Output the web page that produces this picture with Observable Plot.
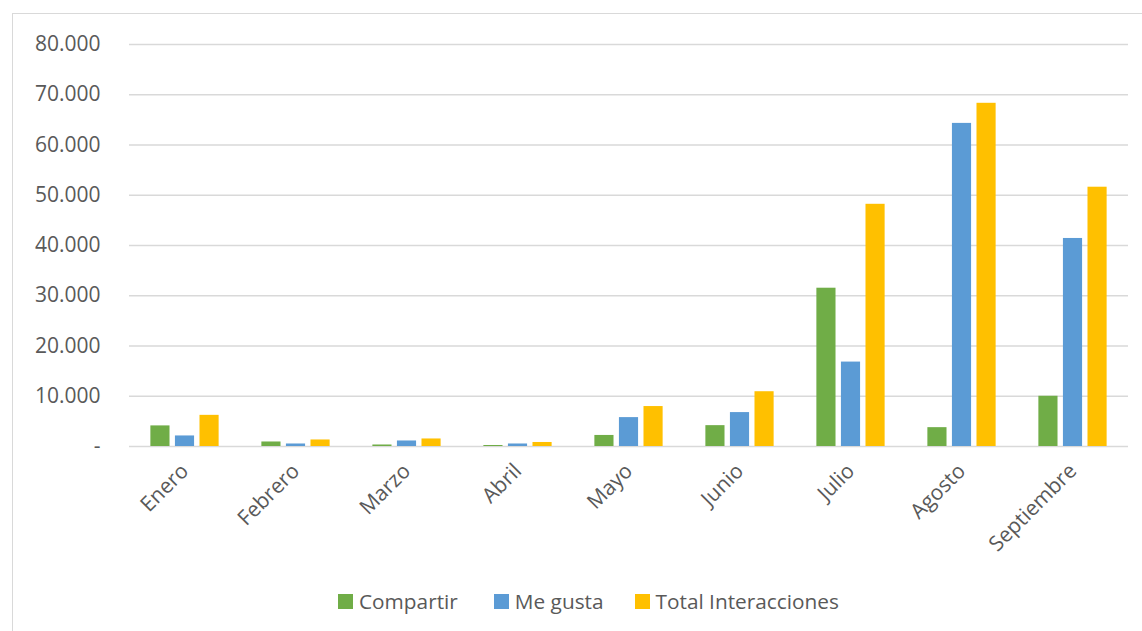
<!DOCTYPE html>
<html>
<head>
<meta charset="utf-8">
<script src="https://cdn.jsdelivr.net/npm/d3@7"></script>
<script src="https://cdn.jsdelivr.net/npm/@observablehq/plot@0.6"></script>
<style>
  html, body { margin: 0; padding: 0; background: #fff; }
  body { width: 1142px; height: 631px; overflow: hidden; position: relative; font-family: "Open Sans", sans-serif; }
  #frame { position: absolute; left: 12px; top: 13px; width: 1140px; height: 640px; border: 1.5px solid #d9d9d9; box-sizing: border-box; }
  #chart { position: absolute; left: 0; top: 0; }
  #legend { position: absolute; left: 338px; top: 587px; display: flex; font-size: 20.8px; line-height: 28px; color: #595959; white-space: nowrap; }
  .item { display: flex; align-items: center; }
  .sw { width: 15px; height: 15px; margin-right: 6px; }
</style>
</head>
<body>
<div id="frame"></div>
<div id="chart"></div>
<div id="legend"></div>
<script>
const months = ["Enero","Febrero","Marzo","Abril","Mayo","Junio","Julio","Agosto","Septiembre"];
const seriesNames = ["Compartir","Me gusta","Total Interacciones"];
const seriesColors = ["#70ad47","#5b9bd5","#ffc000"];
const compartir = [4100, 900, 300, 200, 2200, 4150, 31500, 3750, 10000];
const meGusta   = [2100, 500, 1100, 500, 5750, 6750, 16800, 64300, 41400];
const total     = [6200, 1300, 1500, 800, 7950, 10900, 48200, 68300, 51600];
const yTicks = [0,10000,20000,30000,40000,50000,60000,70000,80000];

const seriesValues = [compartir, meGusta, total];
const data = [];
months.forEach((m, i) => {
  seriesNames.forEach((s, j) => data.push({month: m, series: s, value: seriesValues[j][i]}));
});

const fmt = v => v === 0 ? "-" : d3.format(",")(v).replace(/,/g, ".");

const plot = Plot.plot({
  width: 1142,
  height: 580,
  marginLeft: 129,
  marginRight: 14,
  marginTop: 44,
  marginBottom: 134,
  style: { fontFamily: "Open Sans, sans-serif", fontSize: "21px", color: "#595959", background: "transparent" },
  fx: { domain: months, padding: 0, round: false, label: null, tickRotate: -45, tickSize: 0, tickPadding: 21 },
  x: { domain: seriesNames, axis: null, round: false, paddingInner: 0.18, paddingOuter: 0.85 },
  y: { domain: [0, 80000], ticks: yTicks, tickFormat: fmt, label: null, tickSize: 0, tickPadding: 29 },
  color: { domain: seriesNames, range: seriesColors },
  marks: [
    Plot.gridY(yTicks, { stroke: "#d9d9d9", strokeOpacity: 1, strokeWidth: 1.5 }),
    Plot.barY(data, { fx: "month", x: "series", y: "value", fill: "series", insetLeft: 0.5, insetRight: 0.5 })
  ]
});
document.getElementById("chart").appendChild(plot);

const legend = document.getElementById("legend");
const gaps = [36, 31, 0];
seriesNames.forEach((s, j) => {
  const it = document.createElement("div");
  it.className = "item";
  it.style.marginRight = gaps[j] + "px";
  const sw = document.createElement("div");
  sw.className = "sw";
  sw.style.background = seriesColors[j];
  const t = document.createElement("span");
  t.textContent = s;
  it.appendChild(sw); it.appendChild(t);
  legend.appendChild(it);
});
</script>
</body>
</html>
